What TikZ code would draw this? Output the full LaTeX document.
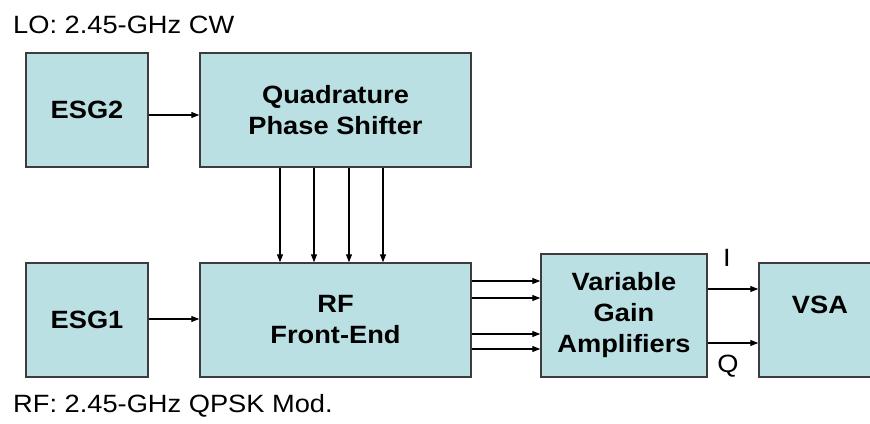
\documentclass[tikz,border=0pt]{standalone}
\usepackage{fontspec}
\setmainfont[FakeStretch=1.09]{Liberation Sans}
\usetikzlibrary{arrows.meta}
\definecolor{boxfill}{HTML}{BBE0E3}
\definecolor{boxline}{HTML}{3C3C3C}
\tikzset{
  blk/.style={draw=boxline, line width=1.5pt, fill=boxfill, inner sep=0pt,
    align=center, font=\fontsize{25}{31}\selectfont\bfseries},
  arr/.style={line width=1.1pt, -{Triangle[length=8pt,width=6pt]}},
  txt/.style={inner sep=0pt, font=\fontsize{25}{31}\selectfont}
}
\begin{document}
\begin{tikzpicture}[x=1pt,y=-1pt]
\useasboundingbox (0,0) rectangle (870,423);
\clip (0,0) rectangle (870,423);
\node[blk, minimum width=122pt, minimum height=114pt] (esg2) at (87,110) {ESG2};
\node[blk, minimum width=271pt, minimum height=114pt] (qps) at (335.5,110) {Quadrature\\Phase Shifter};
\node[blk, minimum width=122pt, minimum height=114pt] (esg1) at (87,320) {ESG1};
\node[blk, minimum width=271pt, minimum height=114pt] (rf) at (335.5,320) {RF\\Front-End};
\node[blk, minimum width=166pt, minimum height=123pt] (vga) at (624,315.5) {Variable\\Gain\\Amplifiers};
\node[blk, minimum width=122pt, minimum height=114pt] (vsa) at (820,320) {VSA\\\mbox{}};
\node[txt, anchor=base west] (lo) at (13,33) {LO: 2.45-GHz CW};
\node[txt, anchor=base west] (rfl) at (13,412) {RF: 2.45-GHz QPSK Mod.};
\node[txt] (il) at (727,258) {I};
\node[txt] (ql) at (728,366) {Q};
\draw[arr] (esg2.east |- 0,115) -- (qps.west |- 0,115);
\draw[arr] (esg1.east |- 0,319) -- (rf.west |- 0,319);
\foreach \xx in {280,314,349,383}
  \draw[arr] (qps.south -| \xx,0) -- (rf.north -| \xx,0);
\foreach \yy in {281,298,334,349}
  \draw[arr] (rf.east |- 0,\yy) -- (vga.west |- 0,\yy);
\draw[arr] (vga.east |- 0,289) -- (vsa.west |- 0,289);
\draw[arr] (vga.east |- 0,343) -- (vsa.west |- 0,343);
\end{tikzpicture}
\end{document}
